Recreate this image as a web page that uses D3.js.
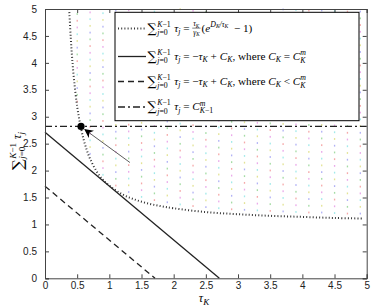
<!DOCTYPE html>
<html><head><meta charset="utf-8">
<script src="https://cdn.jsdelivr.net/npm/d3@7"></script>
<style>body{margin:0;background:#fff}svg{display:block}</style>
</head><body>
<svg id="c" width="374" height="306"></svg>
<script>
// ---- data ----
const xTicks = [0,0.5,1,1.5,2,2.5,3,3.5,4,4.5,5];
const yTicks = [0,0.5,1,1.5,2,2.5,3,3.5,4,4.5,5];
// dotted curve: sum tau_j = tau_K/gamma_K (e^{D_K/tau_K}-1)
const curveX = [0.375,0.38,0.40,0.42,0.45,0.50,0.55,0.60,0.65,0.70,0.80,0.90,1.0,1.2,1.4,1.6,1.8,2.0,2.5,3.0,3.5,4.0,4.5,4.95];
const curveY = [5.0,4.90,4.47,4.12,3.70,3.19,2.84,2.58,2.38,2.22,1.99,1.83,1.72,1.56,1.46,1.39,1.34,1.30,1.23,1.19,1.16,1.14,1.12,1.11];
// solid line C_K = C_K^m
const solidX = [0, 2.71];
const solidY = [2.71, 0];
// dashed line C_K < C_K^m
const dashX = [0, 1.71];
const dashY = [1.71, 0];
// dash-dot horizontal C_{K-1}^m
const hLineY = 2.82;
const hLineX = [0, 5];
// marked point and arrow
const pointXY = [0.56, 2.82];
const arrowFrom = [1.32, 2.15];
const arrowTo = [0.62, 2.76];
// feasible-region grid columns and their lower bounds
const gridX = [0.5,0.7,0.9,1.1,1.3,1.5,1.7,1.9,2.1,2.3,2.5,2.7,2.9,3.1,3.3,3.5,3.7,3.9,4.1,4.3,4.5,4.7,4.9];
const gridLow = [3.19,2.22,1.83,1.63,1.51,1.42,1.36,1.32,1.28,1.25,1.23,1.21,1.19,1.18,1.17,1.16,1.15,1.14,1.13,1.13,1.12,1.11,1.11];
const gridColors = ['#f4a0a0','#9ad89a','#a8a8f4','#e0e08a','#98e8e8','#e8a0e8'];

// ---- layout ----
const svg = d3.select('#c');
const L=45, R=366.7, T=9, B=278.3;
const x = d3.scaleLinear().domain([0,5]).range([L,R]);
const y = d3.scaleLinear().domain([0,5]).range([B,T]);
const ink = '#222';

// feasible dots
const gDots = svg.append('g');
gridX.forEach((gx,i)=>{
  const ys = d3.range(gridLow[i]+0.09, 5.0, 0.125);
  ys.forEach((gy,j)=>{
    gDots.append('rect').attr('x', x(gx)-0.6).attr('y', y(gy)-1)
      .attr('width',1.3).attr('height',1.8)
      .attr('fill', gridColors[(i*2+j)%gridColors.length]).attr('opacity',0.9);
  });
});

const line = d3.line().x(d=>x(d[0])).y(d=>y(d[1]));

// curve
svg.append('path').datum(curveX.map((v,i)=>[v,curveY[i]]))
  .attr('d', d3.line().x(d=>x(d[0])).y(d=>y(d[1])).curve(d3.curveCatmullRom))
  .attr('fill','none').attr('stroke','#333').attr('stroke-width',2).attr('stroke-dasharray','1,2.2');
// solid
svg.append('path').datum(solidX.map((v,i)=>[v,solidY[i]])).attr('d',line)
  .attr('fill','none').attr('stroke',ink).attr('stroke-width',1.3);
// dashed
svg.append('path').datum(dashX.map((v,i)=>[v,dashY[i]])).attr('d',line)
  .attr('fill','none').attr('stroke',ink).attr('stroke-width',1.3).attr('stroke-dasharray','6,4');
// dash-dot
svg.append('path').datum(hLineX.map(v=>[v,hLineY])).attr('d',line)
  .attr('fill','none').attr('stroke',ink).attr('stroke-width',1.4).attr('stroke-dasharray','7,3,2,3');

// arrow
const defs = svg.append('defs');
defs.append('marker').attr('id','ah').attr('viewBox','0 0 10 10').attr('refX',9).attr('refY',5)
  .attr('markerWidth',9).attr('markerHeight',9).attr('markerUnits','userSpaceOnUse').attr('orient','auto')
  .append('path').attr('d','M0,0 L10,5 L0,10 L3,5 Z').attr('fill','#000');
svg.append('line').attr('x1',x(arrowFrom[0])).attr('y1',y(arrowFrom[1]))
  .attr('x2',x(arrowTo[0])).attr('y2',y(arrowTo[1]))
  .attr('stroke','#333').attr('stroke-width',0.8).attr('marker-end','url(#ah)');
svg.append('circle').attr('cx',x(pointXY[0])).attr('cy',y(pointXY[1])).attr('r',3.6).attr('fill','#000');

// axes
const axStroke='#444';
const gx = svg.append('g').attr('transform',`translate(0,${B})`)
  .call(d3.axisBottom(x).tickValues(xTicks).tickSize(-4).tickPadding(4).tickFormat(d3.format('')));
const gxT = svg.append('g').attr('transform',`translate(0,${T})`)
  .call(d3.axisTop(x).tickValues(xTicks).tickSize(-4).tickFormat(''));
const gy = svg.append('g').attr('transform',`translate(${L},0)`)
  .call(d3.axisLeft(y).tickValues(yTicks).tickSize(-4).tickPadding(8).tickFormat(d3.format('')));
const gyR = svg.append('g').attr('transform',`translate(${R},0)`)
  .call(d3.axisRight(y).tickValues(yTicks).tickSize(-4).tickFormat(''));
[gx,gxT,gy,gyR].forEach(g=>{
  g.selectAll('path').attr('stroke',axStroke).attr('stroke-width',1);
  g.selectAll('line').attr('stroke',axStroke);
  g.selectAll('text').attr('font-family','Liberation Sans, Arial, sans-serif').attr('font-size',10).attr('fill','#222');
});

// ---- math text renderer ----
const SERIF = 'Liberation Serif, DejaVu Serif, serif';
function rm(g, x0, y0, pieces, fs){
  let cx = x0;
  for (const p of pieces){
    if (p.k==='sum'){
      const s = g.append('text').attr('x',cx).attr('y',y0+fs*0.12).attr('font-family','DejaVu Serif, serif')
        .attr('font-size',fs*1.15).attr('fill','#000').text('∑');
      const w0 = s.node().getComputedTextLength();
      const w1 = rm(g, cx+w0+0.5, y0-fs*0.42, [{t:'K',it:1},{t:'−1'}], fs*0.7) - (cx+w0+0.5);
      const w2 = rm(g, cx+w0+0.5, y0+fs*0.32, [{t:'j',it:1},{t:'=0'}], fs*0.7) - (cx+w0+0.5);
      cx += w0 + 0.5 + Math.max(w1,w2) + fs*0.3;
    } else if (p.k==='frac'){
      const a = rm(g, cx+1, y0-fs*0.5, p.num, fs*0.65);
      const b = rm(g, cx+1, y0+fs*0.28, p.den, fs*0.65);
      const w = Math.max(a,b) - cx + 1;
      g.append('line').attr('x1',cx).attr('x2',cx+w).attr('y1',y0-fs*0.3).attr('y2',y0-fs*0.3)
        .attr('stroke','#000').attr('stroke-width',0.5);
      cx += w + 1;
    } else if (p.k==='supsub'){
      const a = rm(g, cx, y0-fs*0.4, p.sup, fs*0.7);
      const b = rm(g, cx, y0+fs*0.3, p.sub, fs*0.7);
      cx = Math.max(a,b);
    } else {
      const s = p.s||1;
      const t = g.append('text').attr('x',cx).attr('y',y0+(p.dy||0)*fs)
        .attr('font-family',SERIF).attr('font-size',fs*s).attr('fill','#000')
        .attr('font-style',p.it?'italic':'normal').style('white-space','pre').text(p.t);
      cx += t.node().getComputedTextLength();
    }
  }
  return cx;
}
const sub = (t,it=1)=>({t,it,s:0.7,dy:0.25});

// legend
const lg = svg.append('g');
lg.append('rect').attr('x',115).attr('y',12.3).attr('width',244).attr('height',108.4)
  .attr('fill','#fff').attr('stroke','#000').attr('stroke-width',1);
const rowsY = [28.5, 56.5, 81.5, 107];
const styles = [
  {dash:'1,2.2', w:2, c:'#333'},
  {dash:null, w:1.3, c:ink},
  {dash:'6,4', w:1.3, c:ink},
  {dash:'7,3,2,3', w:1.4, c:ink}
];
rowsY.forEach((ry,i)=>{
  const l = lg.append('line').attr('x1',118).attr('x2',146).attr('y1',ry).attr('y2',ry)
    .attr('stroke',styles[i].c).attr('stroke-width',styles[i].w);
  if (styles[i].dash) l.attr('stroke-dasharray',styles[i].dash);
});
const fsL = 11.2;
const tauj = [{t:'τ',it:1}, sub('j'), {t:' = '}];
const Cm = (s)=>[{t:'C',it:1},{k:'supsub', sup:[{t:'m',it:1}], sub:s}];
rm(lg, 147.5, rowsY[0]+3, [{k:'sum'}, ...tauj,
  {k:'frac', num:[{t:'τ',it:1},sub('K')], den:[{t:'γ',it:1},sub('K')]},
  {t:'('},{t:'e',it:1},{t:'D',it:1,s:0.7,dy:-0.42},{t:'K',it:1,s:0.5,dy:-0.3},{t:'/τ',it:1,s:0.7,dy:-0.42},{t:'K',it:1,s:0.5,dy:-0.3},
  {t:'  − 1)'}], fsL);
rm(lg, 147.5, rowsY[1]+3, [{k:'sum'}, ...tauj, {t:'−'},{t:'τ',it:1},sub('K'),{t:' + '},{t:'C',it:1},sub('K'),
  {t:', where '},{t:'C',it:1},sub('K'),{t:' = '},...Cm([{t:'K',it:1}])], fsL);
rm(lg, 147.5, rowsY[2]+3, [{k:'sum'}, ...tauj, {t:'−'},{t:'τ',it:1},sub('K'),{t:' + '},{t:'C',it:1},sub('K'),
  {t:', where '},{t:'C',it:1},sub('K'),{t:' < '},...Cm([{t:'K',it:1}])], fsL);
rm(lg, 147.5, rowsY[3]+3, [{k:'sum'}, ...tauj, ...Cm([{t:'K',it:1},{t:'−1'}])], fsL);
// x label
const xl = svg.append('g');
const xe = rm(xl, 0, 0, [{t:'τ',it:1}, {t:'K',it:1,s:0.75,dy:0.25}], 12);
xl.attr('transform',`translate(${204 - xe/2},301.5)`);
// y label
const yl = svg.append('g');
rm(yl, 0, 0, [{k:'sum'},{t:'τ',it:1},{t:'j',it:1,s:0.7,dy:0.25}], 13);
yl.attr('transform',`translate(21,${170}) rotate(-90)`);
</script>
</body></html>
